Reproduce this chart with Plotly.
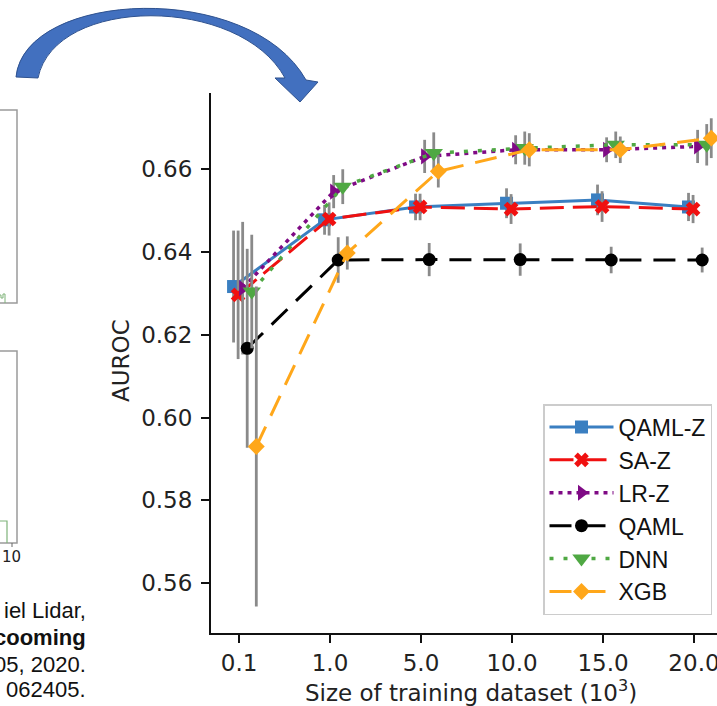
import re
import plotly.graph_objects as go

# ---------------- data ----------------
size_labels = ["0.1", "1.0", "5.0", "10.0", "15.0", "20.0"]
series_names = ["QAML-Z", "SA-Z", "LR-Z", "QAML", "DNN", "XGB"]

qaml_z = [0.6316, 0.6477, 0.6508, 0.6517, 0.6525, 0.6508]
qaml_z_err = [0.0135, 0.0036, 0.0032, 0.0036, 0.0037, 0.0034]
sa_z = [0.6296, 0.6479, 0.6508, 0.6503, 0.6509, 0.6503]
sa_z_err = [0.0155, 0.0040, 0.0032, 0.0036, 0.0037, 0.0034]
lr_z = [0.6312, 0.6545, 0.6630, 0.6646, 0.6646, 0.6654]
lr_z_err = [0.0160, 0.0040, 0.0040, 0.0035, 0.0030, 0.0040]
qaml = [0.6167, 0.6380, 0.6381, 0.6381, 0.6380, 0.6380]
qaml_err = [0.0240, 0.0055, 0.0040, 0.0039, 0.0032, 0.0030]
dnn = [0.6304, 0.6557, 0.6638, 0.6650, 0.6658, 0.6658]
dnn_err = [0.0137, 0.0042, 0.0050, 0.0040, 0.0032, 0.0050]
xgb = [0.5930, 0.6397, 0.6594, 0.6646, 0.6646, 0.6674]
xgb_err = [0.0386, 0.0040, 0.0039, 0.0040, 0.0032, 0.0048]

values = [qaml_z, sa_z, lr_z, qaml, dnn, xgb]
errors = [qaml_z_err, sa_z_err, lr_z_err, qaml_err, dnn_err, xgb_err]

# ---------------- styles ----------------
offsets = [-0.06, -0.01, 0.04, 0.09, 0.14, 0.19]
colors = ["#3a7fc1", "#f01010", "#7f0a85", "#000000", "#4fa843", "#ffa71a"]
dashes = ["solid", "24px,9px", "4px,5px", "22px,12px", "4px,10px", "22px,12px"]
lwidths = [3, 3, 3.5, 3, 3.5, 3]
symbols = ["square", "x", "triangle-right", "circle", "triangle-down", "diamond"]
msizes = [13, 13, 14, 13, 16, 13]

W, H = 717, 706
L, R, T, B = 211, 0, 93, 73
PW, PH = W - L - R, H - T - B


def px(x):
    return (x - L) / PW


def py(y):
    return (H - B - y) / PH


def path_px(d):
    # convert "x,y" pixel pairs into paper coordinates
    def rep(m):
        return "%.5f,%.5f" % (px(float(m.group(1))), py(float(m.group(2))))
    return re.sub(r"(-?[\d.]+),(-?[\d.]+)", rep, d)


fig = go.Figure()
xpos = list(range(len(size_labels)))
for i, name in enumerate(series_names):
    fig.add_trace(go.Scatter(
        x=[p + offsets[i] for p in xpos],
        y=values[i],
        name=name,
        legendgroup=name,
        mode="lines+markers",
        line=dict(color=colors[i], width=lwidths[i], dash=dashes[i]),
        marker=dict(symbol=symbols[i], size=msizes[i], color=colors[i],
                    line=dict(width=0)),
        error_y=dict(type="data", array=errors[i], color="#8a8a8a",
                     thickness=2.8, width=0),
    ))

tickfont = dict(family="DejaVu Sans", size=23, color="#222222")
fig.update_xaxes(
    range=[-0.308, 5.253], tickmode="array", tickvals=xpos, ticktext=size_labels,
    showline=True, linecolor="#111111", linewidth=2, mirror=False,
    ticks="outside", ticklen=8, tickwidth=2, tickcolor="#111111",
    showgrid=False, zeroline=False, tickfont=tickfont, ticklabelstandoff=0,
    ticklabeloverflow="allow",
)
fig.update_yaxes(
    range=[0.548, 0.6783], tickmode="array",
    tickvals=[0.56, 0.58, 0.60, 0.62, 0.64, 0.66],
    ticktext=["0.56", "0.58", "0.60", "0.62", "0.64", "0.66"],
    showline=True, linecolor="#111111", linewidth=2, mirror=False,
    ticks="outside", ticklen=8, tickwidth=2, tickcolor="#111111",
    showgrid=False, zeroline=False, tickfont=tickfont, ticklabelstandoff=4,
)

annotations = [
    dict(text="AUROC", x=px(121), y=py(361), xref="paper", yref="paper",
         showarrow=False, textangle=-90, font=tickfont,
         xanchor="center", yanchor="middle"),
    dict(text="Size of training dataset (10<sup>3</sup>)", x=px(471), y=py(691),
         xref="paper", yref="paper", showarrow=False, font=tickfont,
         xanchor="center", yanchor="middle"),
    dict(text="10", x=px(11), y=py(557), xref="paper", yref="paper",
         showarrow=False, font=dict(family="DejaVu Sans", size=15, color="#222"),
         xanchor="center", yanchor="middle"),
]
ref_lines = [("iel Lidar,", 610, False), ("cooming", 637, True),
             ("05, 2020.", 664, False), ("062405.", 689, False)]
for txt, yy, bold in ref_lines:
    annotations.append(dict(
        text=("<b>%s</b>" % txt) if bold else txt, x=px(88), y=py(yy),
        xref="paper", yref="paper", showarrow=False,
        font=dict(family="Liberation Sans", size=22, color="#111111"),
        xanchor="right", yanchor="middle"))

shapes = [
    # curved arrow
    dict(type="path", xref="paper", yref="paper",
         path=path_px("M 16,77 C 25,-10 250,-20 306,80 L 318,82 L 300,102 "
                      "L 275,78 L 285,78 C 240,-5 55,-5 38,78 Z"),
         fillcolor="#4270bf", line=dict(color="#2f528f", width=1)),
    # fragments of neighbouring panels
    dict(type="rect", xref="paper", yref="paper", x0=px(-20), x1=px(17),
         y0=py(303), y1=py(110), line=dict(color="#9a9a9a", width=1.5)),
    dict(type="rect", xref="paper", yref="paper", x0=px(-20), x1=px(17),
         y0=py(543), y1=py(351), line=dict(color="#9a9a9a", width=1.5)),
    dict(type="path", xref="paper", yref="paper",
         path=path_px("M -2,303 L -2,295 L 1,295 L 1,298 L 3,298 L 3,294 L 5,294 L 5,303"),
         line=dict(color="#7fb37a", width=1)),
    dict(type="path", xref="paper", yref="paper",
         path=path_px("M -2,521 L 7,521 L 7,543"),
         line=dict(color="#7fb37a", width=1.2)),
    dict(type="line", xref="paper", yref="paper", x0=px(12), x1=px(12),
         y0=py(543), y1=py(547), line=dict(color="#666", width=1)),
]

fig.update_layout(
    width=W, height=H,
    margin=dict(l=L, r=R, t=T, b=B, autoexpand=False),
    plot_bgcolor="white", paper_bgcolor="white",
    showlegend=True,
    legend=dict(x=px(543), y=py(404), xanchor="left", yanchor="top",
                bgcolor="rgba(255,255,255,0.9)", bordercolor="#cccccc",
                borderwidth=1.5, tracegroupgap=0, itemwidth=64,
                font=dict(family="Liberation Sans", size=23, color="#111111")),
    annotations=annotations,
    shapes=shapes,
)

fig.write_html("out.html")
